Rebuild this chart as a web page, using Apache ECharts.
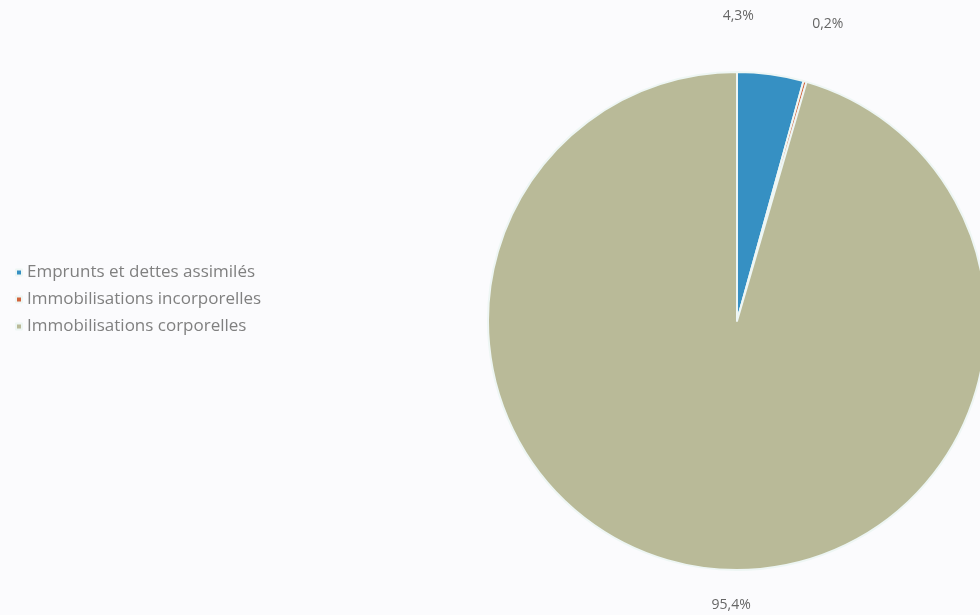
<!DOCTYPE html>
<html>
<head>
<meta charset="utf-8">
<script src="https://cdn.jsdelivr.net/npm/echarts@6/dist/echarts.min.js"></script>
<style>
  html, body { margin: 0; padding: 0; background: #fbfbfd; }
  #chart { width: 980px; height: 615px; }
</style>
</head>
<body>
<div id="chart"></div>
<script>
// Répartition des immobilisations et emprunts
const categories = [
  'Emprunts et dettes assimilés',
  'Immobilisations incorporelles',
  'Immobilisations corporelles'
];
const values = [4.3, 0.2, 95.4];
const colors = ['#3690c3', '#d2643c', '#b9ba98'];

// nudges for the percentage labels, so they sit above / below the pie
const labelShift = [[-54, -50], [0, -50], [55, 30]];

const chart = echarts.init(document.getElementById('chart'));

chart.setOption({
  backgroundColor: '#fbfbfd',
  color: colors,
  legend: {
    orient: 'vertical',
    left: 10,
    top: 259,
    itemWidth: 6,
    itemHeight: 6,
    itemGap: 10,
    icon: 'rect',
    textStyle: {
      color: '#808080',
      fontSize: 17,
      fontFamily: 'Open Sans'
    },
    data: categories
  },
  series: [{
    type: 'pie',
    center: [737, 321],
    radius: [0, 249],
    startAngle: 90,
    clockwise: true,
    avoidLabelOverlap: false,
    itemStyle: {
      borderColor: '#eef6f4',
      borderWidth: 2
    },
    label: {
      show: true,
      position: 'outside',
      formatter: p => p.value.toFixed(1).replace('.', ',') + '%',
      color: '#666',
      fontSize: 14,
      fontFamily: 'Open Sans'
    },
    labelLine: { show: false, length: 8, length2: 0 },
    labelLayout: p => ({ dx: labelShift[p.dataIndex][0], dy: labelShift[p.dataIndex][1] }),
    emphasis: { disabled: true },
    data: categories.map((name, i) => ({ name, value: values[i] }))
  }]
});
</script>
</body>
</html>
